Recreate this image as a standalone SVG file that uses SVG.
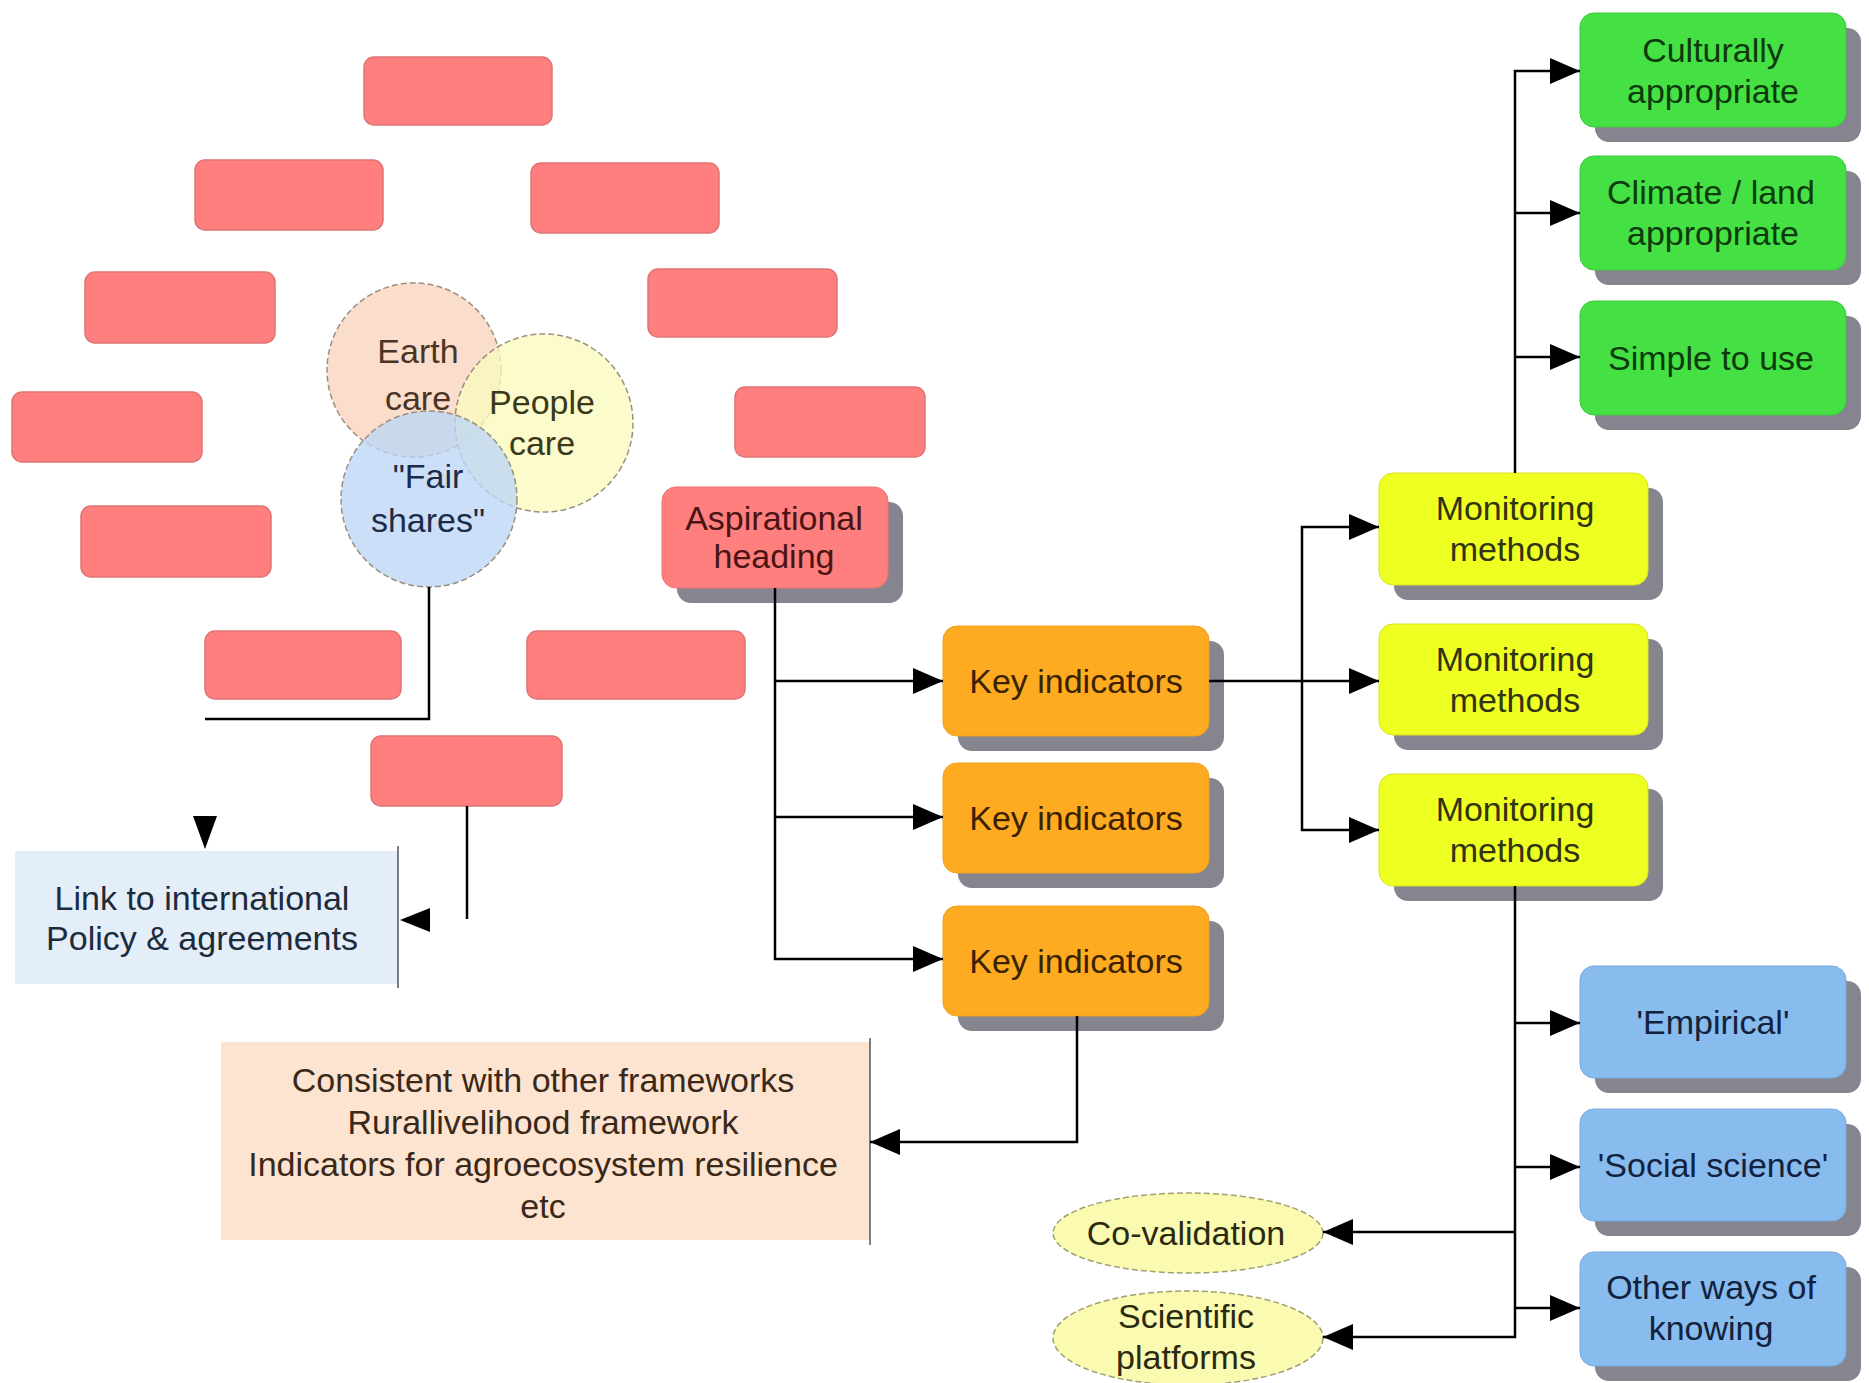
<svg xmlns="http://www.w3.org/2000/svg" width="1869" height="1383" viewBox="0 0 1869 1383">
<defs>
<marker id="arr" markerUnits="userSpaceOnUse" markerWidth="30" markerHeight="26" refX="30" refY="13" orient="auto">
<path d="M0,0 L30,13 L0,26 z" fill="#000"/>
</marker>
</defs>
<style>
text{font-family:"Liberation Sans",Arial,sans-serif;font-size:34px;text-anchor:middle}
.pink{fill:#ff7f7f;stroke:#e07474;stroke-width:1.5}
.shadow{fill:#858590}
.asp{fill:#ff7f7f;stroke:#f07070;stroke-width:1}
.key{fill:#ffab22;stroke:#f0a020;stroke-width:1}
.mon{fill:#eeff22;stroke:#dde020;stroke-width:1}
.grn{fill:#44e044;stroke:#3cc83c;stroke-width:1}
.blu{fill:#88bbee;stroke:#78aadd;stroke-width:1}
.ell{fill:#fafab0;stroke:#a0a070;stroke-width:1.5;stroke-dasharray:6 3}
.circ{stroke:#9a9080;stroke-width:1.5;stroke-dasharray:6 3;fill-opacity:0.78}
.conn{fill:none;stroke:#000;stroke-width:2.5}
.edge{stroke:#555;stroke-width:1.5}
</style>
<rect width="1869" height="1383" fill="#fff"/>

<g id="pink-boxes">
<rect id="p1" class="pink" x="364" y="57" width="188" height="68" rx="10"/>
<rect id="p2" class="pink" x="195" y="160" width="188" height="70" rx="10"/>
<rect id="p3" class="pink" x="531" y="163" width="188" height="70" rx="10"/>
<rect id="p4" class="pink" x="85" y="272" width="190" height="71" rx="10"/>
<rect id="p5" class="pink" x="648" y="269" width="189" height="68" rx="10"/>
<rect id="p6" class="pink" x="12" y="392" width="190" height="70" rx="10"/>
<rect id="p7" class="pink" x="735" y="387" width="190" height="70" rx="10"/>
<rect id="p8" class="pink" x="81" y="506" width="190" height="71" rx="10"/>
<rect id="p9" class="pink" x="205" y="631" width="196" height="68" rx="10"/>
<rect id="p10" class="pink" x="527" y="631" width="218" height="68" rx="10"/>
<rect id="p11" class="pink" x="371" y="736" width="191" height="70" rx="10"/>
</g>

<g id="circles">
<g id="earth-care">
<circle class="circ" cx="414" cy="370" r="87" fill="#f8d4bc"/>
</g>
<g id="people-care">
<circle class="circ" cx="544" cy="423" r="89" fill="#fafabc"/>
</g>
<g id="fair-shares">
<circle class="circ" cx="429" cy="499" r="88" fill="#bcd6f6"/>
</g>
<text x="418" y="363" font-size="37" fill="#4a3424">Earth</text>
<text x="418" y="410" font-size="37" fill="#4a3424">care</text>
<text x="542" y="414" font-size="37" fill="#3a3a1a">People</text>
<text x="542" y="455" font-size="37" fill="#3a3a1a">care</text>
<text x="428" y="488" font-size="37" fill="#1c2c48">"Fair</text>
<text x="428" y="532" font-size="37" fill="#1c2c48">shares"</text>
</g>

<g id="aspirational">
<rect class="shadow" x="677" y="502" width="226" height="101" rx="14"/>
<rect class="asp" x="662" y="487" width="226" height="101" rx="14"/>
<text x="774" y="530" fill="#4a1414">Aspirational</text>
<text x="774" y="568" fill="#4a1414">heading</text>
</g>

<g id="key1">
<rect class="shadow" x="958" y="641" width="266" height="110" rx="14"/>
<rect class="key" x="943" y="626" width="266" height="110" rx="14"/>
<text x="1076" y="693" fill="#3a2200">Key indicators</text>
</g>
<g id="key2">
<rect class="shadow" x="958" y="778" width="266" height="110" rx="14"/>
<rect class="key" x="943" y="763" width="266" height="110" rx="14"/>
<text x="1076" y="830" fill="#3a2200">Key indicators</text>
</g>
<g id="key3">
<rect class="shadow" x="958" y="921" width="266" height="110" rx="14"/>
<rect class="key" x="943" y="906" width="266" height="110" rx="14"/>
<text x="1076" y="973" fill="#3a2200">Key indicators</text>
</g>

<g id="mon1">
<rect class="shadow" x="1394" y="488" width="269" height="112" rx="14"/>
<rect class="mon" x="1379" y="473" width="269" height="112" rx="14"/>
<text x="1515" y="520" fill="#333310">Monitoring</text>
<text x="1515" y="561" fill="#333310">methods</text>
</g>
<g id="mon2">
<rect class="shadow" x="1394" y="639" width="269" height="111" rx="14"/>
<rect class="mon" x="1379" y="624" width="269" height="111" rx="14"/>
<text x="1515" y="671" fill="#333310">Monitoring</text>
<text x="1515" y="712" fill="#333310">methods</text>
</g>
<g id="mon3">
<rect class="shadow" x="1394" y="789" width="269" height="112" rx="14"/>
<rect class="mon" x="1379" y="774" width="269" height="112" rx="14"/>
<text x="1515" y="821" fill="#333310">Monitoring</text>
<text x="1515" y="862" fill="#333310">methods</text>
</g>

<g id="green1">
<rect class="shadow" x="1595" y="28" width="266" height="114" rx="14"/>
<rect class="grn" x="1580" y="13" width="266" height="114" rx="14"/>
<text x="1713" y="62" fill="#0c3a0c">Culturally</text>
<text x="1713" y="103" fill="#0c3a0c">appropriate</text>
</g>
<g id="green2">
<rect class="shadow" x="1595" y="171" width="266" height="114" rx="14"/>
<rect class="grn" x="1580" y="156" width="266" height="114" rx="14"/>
<text x="1711" y="204" fill="#0c3a0c">Climate / land</text>
<text x="1713" y="245" fill="#0c3a0c">appropriate</text>
</g>
<g id="green3">
<rect class="shadow" x="1595" y="316" width="266" height="114" rx="14"/>
<rect class="grn" x="1580" y="301" width="266" height="114" rx="14"/>
<text x="1711" y="370" fill="#0c3a0c">Simple to use</text>
</g>

<g id="blue1">
<rect class="shadow" x="1595" y="981" width="266" height="112" rx="14"/>
<rect class="blu" x="1580" y="966" width="266" height="112" rx="14"/>
<text x="1713" y="1034" fill="#12223c">'Empirical'</text>
</g>
<g id="blue2">
<rect class="shadow" x="1595" y="1124" width="266" height="112" rx="14"/>
<rect class="blu" x="1580" y="1109" width="266" height="112" rx="14"/>
<text x="1713" y="1177" fill="#12223c">'Social science'</text>
</g>
<g id="blue3">
<rect class="shadow" x="1595" y="1267" width="266" height="114" rx="14"/>
<rect class="blu" x="1580" y="1252" width="266" height="114" rx="14"/>
<text x="1711" y="1299" fill="#12223c">Other ways of</text>
<text x="1711" y="1340" fill="#12223c">knowing</text>
</g>

<g id="co-validation">
<ellipse class="ell" cx="1188" cy="1233" rx="135" ry="40"/>
<text x="1186" y="1245" fill="#2a2a10">Co-validation</text>
</g>
<g id="scientific-platforms">
<ellipse class="ell" cx="1188" cy="1338" rx="135" ry="47"/>
<text x="1186" y="1328" fill="#2a2a10">Scientific</text>
<text x="1186" y="1369" fill="#2a2a10">platforms</text>
</g>

<g id="link-box">
<rect x="15" y="851" width="383" height="133" fill="#e4eef8"/>
<line class="edge" x1="398" y1="846" x2="398" y2="988"/>
<text x="202" y="910" fill="#1c2c3c">Link to international</text>
<text x="202" y="950" fill="#1c2c3c">Policy &amp; agreements</text>
</g>

<g id="consistent-box">
<rect x="221" y="1042" width="649" height="198" fill="#fce4d0"/>
<line class="edge" x1="870" y1="1038" x2="870" y2="1245"/>
<text x="543" y="1092" fill="#3a2818">Consistent with other frameworks</text>
<text x="543" y="1134" fill="#3a2818">Rurallivelihood framework</text>
<text x="543" y="1176" fill="#3a2818">Indicators for agroecosystem resilience</text>
<text x="543" y="1218" fill="#3a2818">etc</text>
</g>

<g id="connectors">
<path class="conn" d="M429,587 V719 H205"/>
<polygon points="193,816 217,816 205,849" fill="#000"/>
<path class="conn" d="M467,806 V919"/>
<polygon points="400,920 430,908 430,932" fill="#000"/>
<path class="conn" d="M775,588 V959 H943" marker-end="url(#arr)"/>
<path class="conn" d="M775,681 H943" marker-end="url(#arr)"/>
<path class="conn" d="M775,817 H943" marker-end="url(#arr)"/>
<path class="conn" d="M1209,681 H1379" marker-end="url(#arr)"/>
<path class="conn" d="M1302,681 V527 H1379" marker-end="url(#arr)"/>
<path class="conn" d="M1302,681 V830 H1379" marker-end="url(#arr)"/>
<path class="conn" d="M1515,473 V71 H1580" marker-end="url(#arr)"/>
<path class="conn" d="M1515,213 H1580" marker-end="url(#arr)"/>
<path class="conn" d="M1515,357 H1580" marker-end="url(#arr)"/>
<path class="conn" d="M1515,886 V1337 H1323" marker-end="url(#arr)"/>
<path class="conn" d="M1515,1023 H1580" marker-end="url(#arr)"/>
<path class="conn" d="M1515,1167 H1580" marker-end="url(#arr)"/>
<path class="conn" d="M1515,1308 H1580" marker-end="url(#arr)"/>
<path class="conn" d="M1515,1232 H1323" marker-end="url(#arr)"/>
<path class="conn" d="M1077,1016 V1142 H870" marker-end="url(#arr)"/>
</g>
</svg>
